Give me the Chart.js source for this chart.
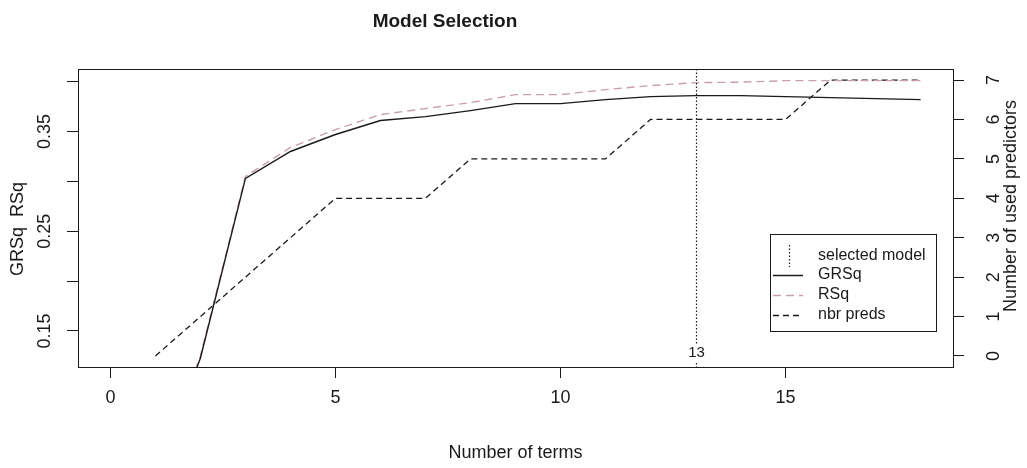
<!DOCTYPE html>
<html>
<head>
<meta charset="utf-8">
<script src="https://cdn.jsdelivr.net/npm/chart.js@4/dist/chart.umd.min.js"></script>
<style>
  html, body { margin: 0; padding: 0; background: #fff; }
  #wrap { width: 1027px; height: 468px; }
</style>
</head>
<body>
<div id="wrap"><canvas id="c" width="1027" height="468"></canvas></div>
<script>
// Model size (number of terms) for each pruning step
const terms = [1, 2, 3, 4, 5, 6, 7, 8, 9, 10, 11, 12, 13, 14, 15, 16, 17, 18];
// Generalized R-squared per model size
const grsq = [0.000, 0.123, 0.303, 0.330, 0.347, 0.361, 0.365, 0.371, 0.378, 0.378, 0.382, 0.385, 0.386, 0.386, 0.385, 0.384, 0.383, 0.382];
// Training R-squared per model size
const rsq = [0.000, 0.125, 0.305, 0.334, 0.352, 0.367, 0.373, 0.379, 0.387, 0.387, 0.392, 0.396, 0.399, 0.3995, 0.401, 0.401, 0.401, 0.401];
// Number of predictors used by each model
const nbrPreds = [0, 1, 2, 3, 4, 4, 4, 5, 5, 5, 5, 6, 6, 6, 6, 7, 7, 7];
// Selected model size
const selectedTerms = 13;
// Axis ticks
const xTicks = [0, 5, 10, 15];
const yTicks = [0.15, 0.20, 0.25, 0.30, 0.35, 0.40];
const yTickLabels = ['0.15', '', '0.25', '', '0.35', ''];
const y2Ticks = [0, 1, 2, 3, 4, 5, 6, 7];

const FONT = '"Liberation Sans", Arial, Helvetica, sans-serif';
const INK = '#1a1a1a';
const PINK = '#c9a0a9';

const pts = arr => terms.map((t, i) => ({ x: t, y: arr[i] }));

const fixedTicks = list => scale => { scale.ticks = list.map(v => ({ value: v })); };

const overlay = {
  id: 'overlay',
  afterDraw(chart) {
    const { ctx, chartArea: a, scales } = chart;
    const x = scales.x, y = scales.y, y2 = scales.y2;
    ctx.save();

    // plot frame
    ctx.strokeStyle = INK;
    ctx.lineWidth = 1;
    ctx.setLineDash([]);
    ctx.strokeRect(Math.round(a.left) + 0.5, Math.round(a.top) + 0.5,
                   Math.round(a.right - a.left), Math.round(a.bottom - a.top));

    // selected model marker
    const sx = Math.round(x.getPixelForValue(selectedTerms)) + 0.5;
    ctx.setLineDash([1.5, 2]);
    ctx.lineWidth = 1.2;
    ctx.beginPath();
    ctx.moveTo(sx, a.top);
    ctx.lineTo(sx, a.bottom);
    ctx.stroke();
    ctx.setLineDash([]);
    ctx.font = '15px ' + FONT;
    ctx.textAlign = 'center';
    ctx.textBaseline = 'middle';
    const lbl = String(selectedTerms);
    const lw = ctx.measureText(lbl).width;
    ctx.fillStyle = '#fff';
    ctx.fillRect(sx - lw / 2 - 1, a.bottom - 23, lw + 2, 17);
    ctx.fillStyle = INK;
    ctx.fillText(lbl, sx, a.bottom - 14);

    // x tick labels
    ctx.font = '18px ' + FONT;
    ctx.fillStyle = INK;
    ctx.textAlign = 'center';
    ctx.textBaseline = 'middle';
    x.ticks.forEach(t => ctx.fillText(String(t.value), x.getPixelForValue(t.value), 398));

    // left tick labels (rotated)
    y.ticks.forEach(t => {
      const txt = yTickLabels[yTicks.indexOf(t.value)] || '';
      if (!txt) return;
      ctx.save();
      ctx.translate(45, y.getPixelForValue(t.value));
      ctx.rotate(-Math.PI / 2);
      ctx.fillText(txt, 0, 0);
      ctx.restore();
    });

    // right tick labels (rotated)
    y2.ticks.forEach(t => {
      ctx.save();
      ctx.translate(994, y2.getPixelForValue(t.value));
      ctx.rotate(-Math.PI / 2);
      ctx.fillText(String(t.value), 0, 0);
      ctx.restore();
    });

    // axis titles
    ctx.fillText('Number of terms', (a.left + a.right) / 2, 453);
    ctx.save();
    ctx.translate(18, 229);
    ctx.rotate(-Math.PI / 2);
    ctx.fillText('GRSq  RSq', 0, 0);
    ctx.restore();
    ctx.save();
    ctx.translate(1011, 206);
    ctx.rotate(-Math.PI / 2);
    ctx.fillText('Number of used predictors', 0, 0);
    ctx.restore();

    // main title
    ctx.font = 'bold 19px ' + FONT;
    ctx.fillText('Model Selection', 445, 22);

    // legend
    const L = { left: 770, top: 234, right: 936, bottom: 331 };
    ctx.fillStyle = '#fff';
    ctx.fillRect(L.left, L.top, L.right - L.left, L.bottom - L.top);
    ctx.strokeStyle = INK;
    ctx.lineWidth = 1;
    ctx.strokeRect(L.left + 0.5, L.top + 0.5, L.right - L.left, L.bottom - L.top);
    ctx.font = '16px ' + FONT;
    ctx.textAlign = 'left';
    ctx.fillStyle = INK;
    const rows = [
      { text: 'selected model', y: 256 },
      { text: 'GRSq', y: 275, color: INK, dash: [], w: 1.5 },
      { text: 'RSq', y: 295, color: PINK, dash: [8, 5], w: 1.3 },
      { text: 'nbr preds', y: 315, color: INK, dash: [6, 4], w: 1.3 }
    ];
    rows.forEach((r, i) => {
      ctx.fillStyle = INK;
      ctx.fillText(r.text, 818, r.y);
      if (i === 0) {
        ctx.setLineDash([1.5, 2]);
        ctx.lineWidth = 1.2;
        ctx.strokeStyle = INK;
        ctx.beginPath();
        ctx.moveTo(789.5, 245);
        ctx.lineTo(789.5, 267);
        ctx.stroke();
      } else {
        ctx.setLineDash(r.dash);
        ctx.lineWidth = r.w;
        ctx.strokeStyle = r.color;
        ctx.beginPath();
        ctx.moveTo(773, r.y + 0.5);
        ctx.lineTo(803, r.y + 0.5);
        ctx.stroke();
      }
    });
    ctx.restore();
  }
};

new Chart(document.getElementById('c'), {
  type: 'line',
  data: {
    datasets: [
      { label: 'GRSq', data: pts(grsq), yAxisID: 'y', borderColor: INK, borderWidth: 1.4,
        pointRadius: 0, tension: 0, fill: false },
      { label: 'RSq', data: pts(rsq), yAxisID: 'y', borderColor: PINK, borderWidth: 1.4,
        borderDash: [8, 5], pointRadius: 0, tension: 0, fill: false },
      { label: 'nbr preds', data: pts(nbrPreds), yAxisID: 'y2', borderColor: INK, borderWidth: 1.3,
        borderDash: [6, 4], pointRadius: 0, tension: 0, fill: false }
    ]
  },
  options: {
    responsive: false,
    devicePixelRatio: 1,
    animation: false,
    events: [],
    layout: { padding: { top: 69, left: 0, right: 0, bottom: 0 } },
    plugins: { legend: { display: false }, title: { display: false }, tooltip: { enabled: false } },
    scales: {
      x: {
        type: 'linear', position: 'bottom', min: -0.72, max: 18.72,
        afterBuildTicks: fixedTicks(xTicks),
        afterFit: s => { s.height = 101; },
        border: { display: false },
        grid: { drawOnChartArea: false, drawTicks: true, tickLength: 11, color: INK, lineWidth: 1 },
        ticks: { display: false }
      },
      y: {
        type: 'linear', position: 'left', min: 0.1139, max: 0.4127,
        afterBuildTicks: fixedTicks(yTicks),
        afterFit: s => { s.width = 78; },
        border: { display: false },
        grid: { drawOnChartArea: false, drawTicks: true, tickLength: 11, color: INK, lineWidth: 1 },
        ticks: { display: false }
      },
      y2: {
        type: 'linear', position: 'right', min: -0.28, max: 7.28,
        afterBuildTicks: fixedTicks(y2Ticks),
        afterFit: s => { s.width = 74; },
        border: { display: false },
        grid: { drawOnChartArea: false, drawTicks: true, tickLength: 11, color: INK, lineWidth: 1 },
        ticks: { display: false }
      }
    }
  },
  plugins: [overlay]
});
</script>
</body>
</html>
